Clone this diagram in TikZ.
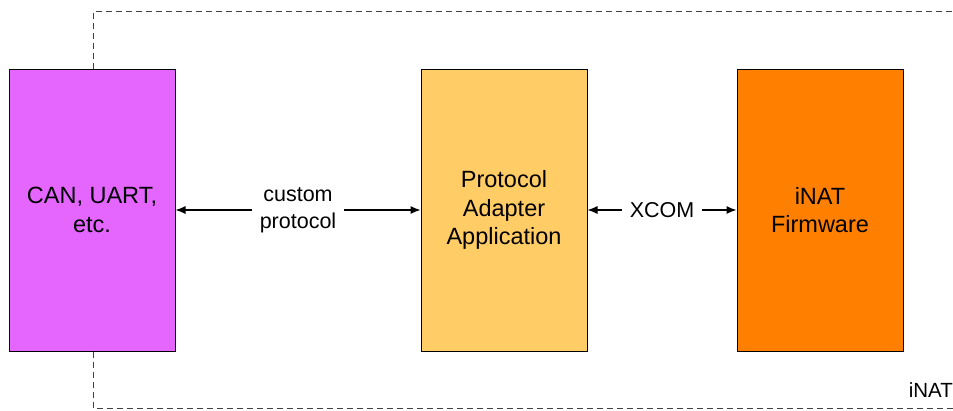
\documentclass[tikz,border=0pt]{standalone}
\usepackage{fontspec}
\setmainfont{Liberation Sans}
\usetikzlibrary{arrows.meta}
\definecolor{canpurple}{HTML}{E466FF}
\definecolor{adapteryellow}{HTML}{FFCC66}
\definecolor{fworange}{HTML}{FF8000}
\tikzset{
  block/.style={draw=black, line width=1pt, minimum width=166pt, minimum height=282pt,
    align=center, inner sep=0pt, font=\fontsize{23.5}{28.5}\selectfont},
  link/.style={{Latex[length=10pt,width=8pt]}-{Latex[length=10pt,width=8pt]}, line width=1.1pt},
  linklabel/.style={fill=white, align=center, inner xsep=8pt, inner ysep=4pt, font=\fontsize{21.5}{27}\selectfont},
  boundary/.style={dashed, dash pattern=on 6pt off 4pt, line width=1pt, draw=black!75}
}
\begin{document}
\begin{tikzpicture}[x=1pt,y=-1pt]
      \useasboundingbox (0,0) rectangle (953,410);
      \node[block, fill=canpurple] (can) at (92,210) {CAN, UART,\\etc.};
      \node[block, fill=adapteryellow] (pa) at (504,210) {Protocol\\Adapter\\Application};
      \node[block, fill=fworange] (fw) at (820,210) {iNAT\\Firmware};
      \coordinate (topleft) at (93,11);
      \coordinate (topright) at (953,11);
      \coordinate (botleft) at (93,408);
      \coordinate (botright) at (953,408);
      \draw[boundary] (can.north -| topleft) -- (topleft) -- (topright);
      \draw[boundary] (can.south -| botleft) -- (botleft) -- (botright);
      \node[anchor=south east, inner sep=1pt, font=\fontsize{20.5}{24}\selectfont] (inat) at (954,399) {iNAT};
      \draw[link] (can) -- (pa) node[midway, linklabel] (proto) {custom\\protocol};
      \draw[link] (pa) -- (fw) node[midway, linklabel] (xcom) {XCOM};
    \end{tikzpicture}
\end{document}
